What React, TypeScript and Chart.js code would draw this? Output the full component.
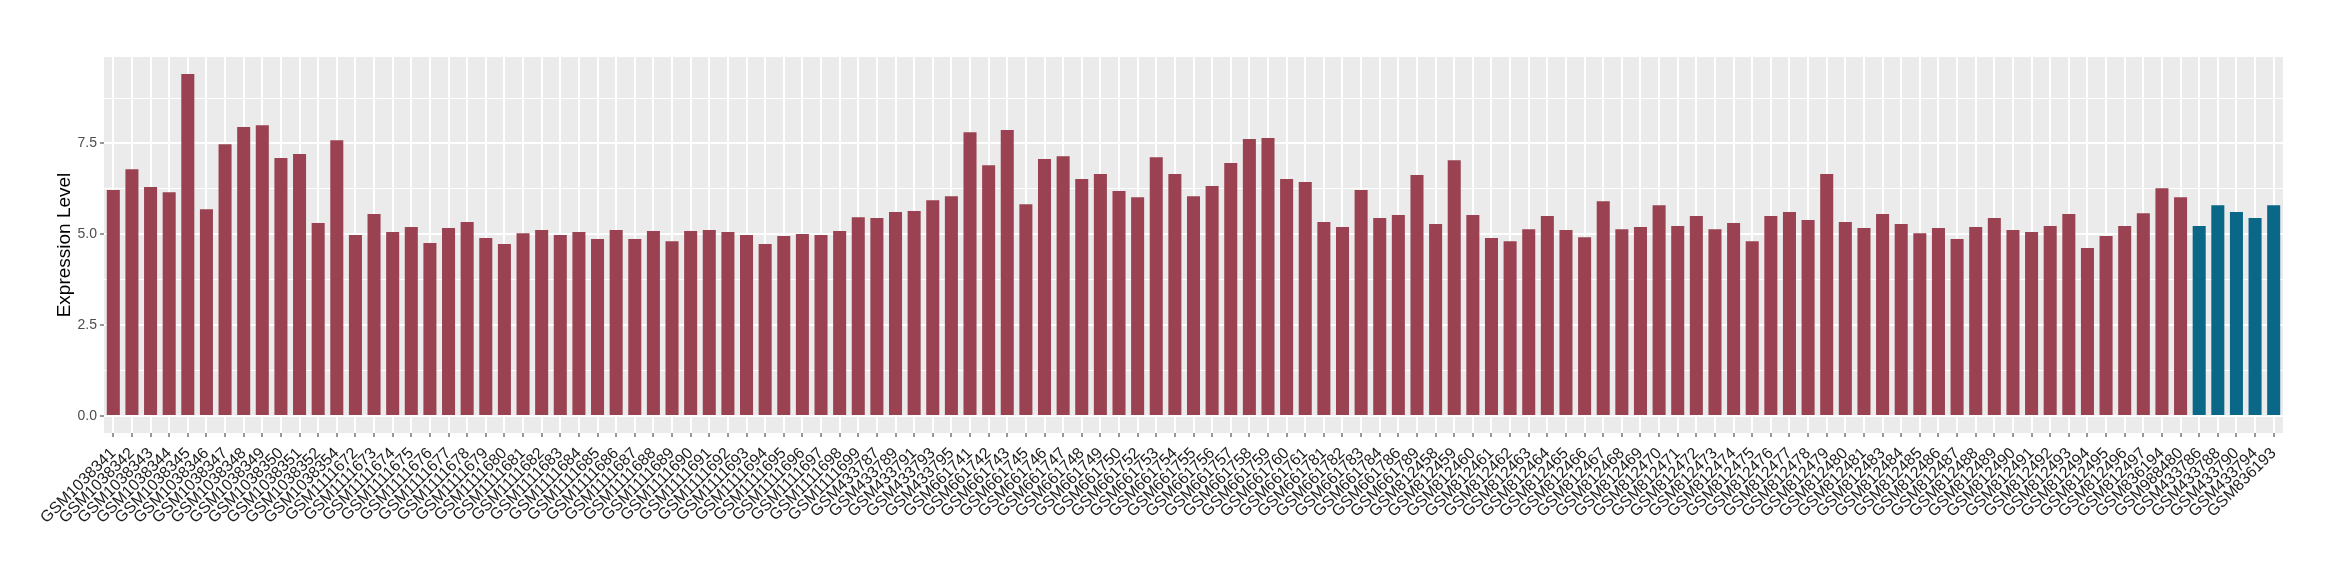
import React, { useEffect, useRef } from "react";
import { Chart, registerables } from "chart.js";

Chart.register(...registerables);

const samples: string[] = [
  "GSM1038341", "GSM1038342", "GSM1038343", "GSM1038344", "GSM1038345", "GSM1038346", "GSM1038347",
  "GSM1038348", "GSM1038349", "GSM1038350", "GSM1038351", "GSM1038352", "GSM1038354",
  "GSM1111672", "GSM1111673", "GSM1111674", "GSM1111675", "GSM1111676", "GSM1111677", "GSM1111678",
  "GSM1111679", "GSM1111680", "GSM1111681", "GSM1111682", "GSM1111683", "GSM1111684", "GSM1111685",
  "GSM1111686", "GSM1111687", "GSM1111688", "GSM1111689", "GSM1111690", "GSM1111691", "GSM1111692",
  "GSM1111693", "GSM1111694", "GSM1111695", "GSM1111696", "GSM1111697", "GSM1111698", "GSM1111699",
  "GSM433787", "GSM433789", "GSM433791", "GSM433793", "GSM433795",
  "GSM661741", "GSM661742", "GSM661743", "GSM661745", "GSM661746", "GSM661747", "GSM661748",
  "GSM661749", "GSM661750", "GSM661752", "GSM661753", "GSM661754", "GSM661755", "GSM661756",
  "GSM661757", "GSM661758", "GSM661759", "GSM661760", "GSM661761", "GSM661781", "GSM661782",
  "GSM661783", "GSM661784", "GSM661786", "GSM661789",
  "GSM812458", "GSM812459", "GSM812460", "GSM812461", "GSM812462", "GSM812463", "GSM812464",
  "GSM812465", "GSM812466", "GSM812467", "GSM812468", "GSM812469", "GSM812470", "GSM812471",
  "GSM812472", "GSM812473", "GSM812474", "GSM812475", "GSM812476", "GSM812477", "GSM812478",
  "GSM812479", "GSM812480", "GSM812481", "GSM812483", "GSM812484", "GSM812485", "GSM812486",
  "GSM812487", "GSM812488", "GSM812489", "GSM812490", "GSM812491", "GSM812492", "GSM812493",
  "GSM812494", "GSM812495", "GSM812496", "GSM812497", "GSM836194", "GSM988480",
  "GSM433786", "GSM433788", "GSM433790", "GSM433794", "GSM836193",
];

const expression: number[] = [
  6.22, 6.79, 6.30, 6.16, 9.41, 5.69, 7.48,
  7.95, 8.00, 7.10, 7.21, 5.31, 7.59,
  4.98, 5.56, 5.06, 5.20, 4.76, 5.17, 5.34,
  4.90, 4.73, 5.03, 5.12, 4.98, 5.06, 4.87,
  5.12, 4.87, 5.09, 4.81, 5.09, 5.12, 5.06,
  4.98, 4.73, 4.95, 5.01, 4.98, 5.09, 5.47,
  5.45, 5.61, 5.64, 5.94, 6.05,
  7.81, 6.90, 7.87, 5.83, 7.07, 7.15, 6.52,
  6.66, 6.19, 6.02, 7.12, 6.66, 6.05, 6.33,
  6.96, 7.62, 7.65, 6.52, 6.44, 5.34, 5.20,
  6.22, 5.45, 5.53, 6.63,
  5.28, 7.04, 5.53, 4.90, 4.81, 5.14, 5.50,
  5.12, 4.92, 5.91, 5.14, 5.20, 5.80, 5.23,
  5.50, 5.14, 5.31, 4.81, 5.50, 5.61, 5.39,
  6.66, 5.34, 5.17, 5.56, 5.28, 5.03, 5.17,
  4.87, 5.20, 5.45, 5.12, 5.06, 5.23, 5.56,
  4.62, 4.95, 5.23, 5.58, 6.27, 6.02,
  5.23, 5.80, 5.61, 5.45, 5.80,
];

const groups: string[] = [
  "A", "A", "A", "A", "A", "A", "A",
  "A", "A", "A", "A", "A", "A",
  "A", "A", "A", "A", "A", "A", "A",
  "A", "A", "A", "A", "A", "A", "A",
  "A", "A", "A", "A", "A", "A", "A",
  "A", "A", "A", "A", "A", "A", "A",
  "A", "A", "A", "A", "A",
  "A", "A", "A", "A", "A", "A", "A",
  "A", "A", "A", "A", "A", "A", "A",
  "A", "A", "A", "A", "A", "A", "A",
  "A", "A", "A", "A",
  "A", "A", "A", "A", "A", "A", "A",
  "A", "A", "A", "A", "A", "A", "A",
  "A", "A", "A", "A", "A", "A", "A",
  "A", "A", "A", "A", "A", "A", "A",
  "A", "A", "A", "A", "A", "A", "A",
  "A", "A", "A", "A", "A", "A",
  "B", "B", "B", "B", "B",
];

const majorTicks: number[] = [0, 2.5, 5, 7.5];
const minorTicks: number[] = [1.25, 3.75, 6.25, 8.75];

const groupColors: Record<string, string> = { A: "#9A4251", B: "#0A6787" };

const panelBg = {
  id: "panelBg",
  beforeDraw(chart: any) {
    const { ctx, chartArea } = chart;
    ctx.save();
    ctx.fillStyle = "#EBEBEB";
    ctx.fillRect(chartArea.left, chartArea.top, chartArea.right - chartArea.left, chartArea.bottom - chartArea.top);
    ctx.restore();
  },
};

export default function App() {
  const ref = useRef<HTMLCanvasElement | null>(null);

  useEffect(() => {
    document.body.style.margin = "0";
    const canvas = ref.current;
    if (!canvas) return;
    const isMajor = (v: number) => majorTicks.includes(v);
    const chart = new Chart(canvas, {
      type: "bar",
      data: {
        labels: samples,
        datasets: [
          {
            data: expression,
            backgroundColor: groups.map((g) => groupColors[g]),
            barPercentage: 0.7,
            categoryPercentage: 1,
          },
        ],
      },
      plugins: [panelBg],
      options: {
        responsive: false,
        animation: false,
        devicePixelRatio: 1,
        layout: { padding: { top: 57, right: 57, left: 0, bottom: 0 } },
        plugins: { legend: { display: false }, tooltip: { enabled: false } },
        scales: {
          x: {
            offset: true,
            grid: {
              offset: false,
              color: "#FFFFFF",
              lineWidth: 2,
              drawTicks: true,
              tickLength: 4,
              tickColor: "#333333",
              tickWidth: 1,
            },
            border: { display: false },
            ticks: {
              autoSkip: false,
              minRotation: 45,
              maxRotation: 45,
              padding: 7,
              color: "#1A1A1A",
              font: { family: "Liberation Sans, Arial, sans-serif", size: 16 },
            },
            afterFit: (scale: any) => {
              scale.height = 147;
            },
          },
          y: {
            min: -0.47,
            max: 9.88,
            afterBuildTicks: (scale: any) => {
              scale.ticks = [...majorTicks, ...minorTicks]
                .sort((a, b) => a - b)
                .map((value) => ({ value }));
            },
            grid: {
              color: "#FFFFFF",
              lineWidth: (c: any) => (c.tick && isMajor(c.tick.value) ? 2 : 1),
              tickLength: 4,
              tickColor: (c: any) => (c.tick && isMajor(c.tick.value) ? "#333333" : "rgba(0,0,0,0)"),
              tickWidth: 1,
            },
            border: { display: false },
            ticks: {
              autoSkip: false,
              padding: 3,
              color: "#4D4D4D",
              font: { family: "Liberation Sans, Arial, sans-serif", size: 14 },
              callback: (v: any) => (isMajor(Number(v)) ? Number(v).toFixed(1) : ""),
            },
            title: {
              display: true,
              text: "Expression Level",
              color: "#000000",
              font: { family: "Liberation Sans, Arial, sans-serif", size: 19 },
              padding: { top: 53, bottom: 0 },
            },
            afterFit: (scale: any) => {
              scale.width = 104;
            },
          },
        },
      },
    });
    return () => chart.destroy();
  }, []);

  return (
    <div style={{ width: 2340, height: 580 }}>
      <canvas ref={ref} width={2340} height={580} style={{ display: "block" }} />
    </div>
  );
}
